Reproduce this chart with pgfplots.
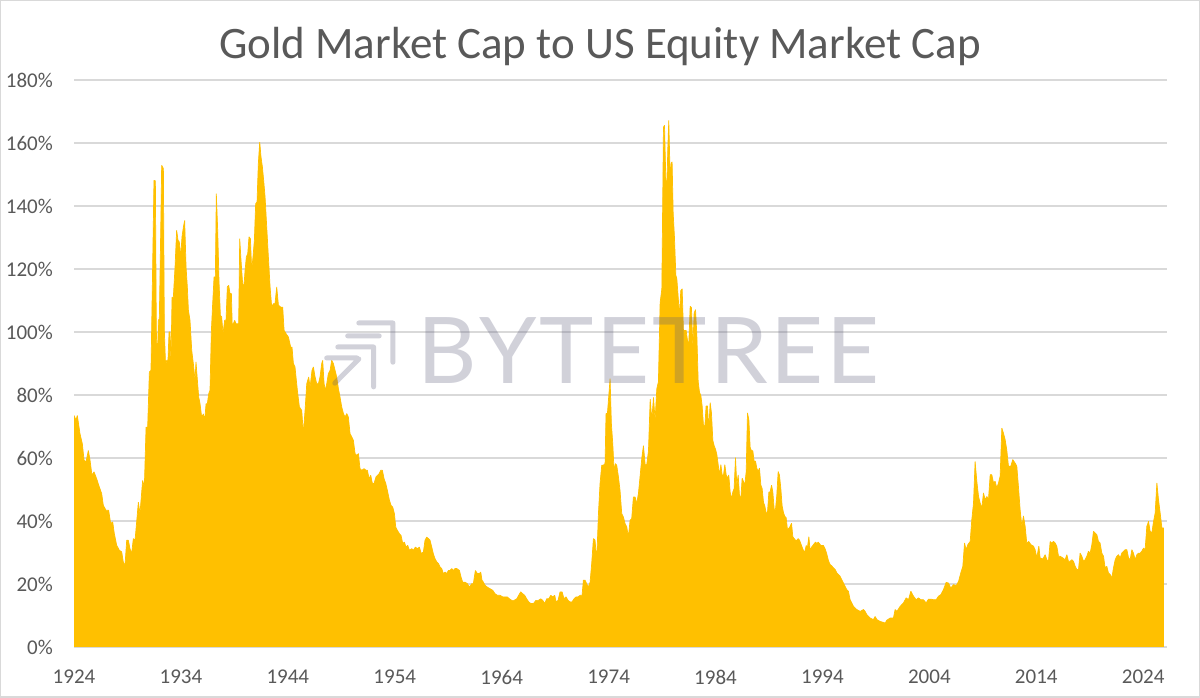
\documentclass[border=0pt]{standalone}
\usepackage{fontspec}
\setmainfont{Carlito}
\newfontfamily\wmfont{Lato}
\usepackage{pgfplots}
\pgfplotsset{compat=1.18}
\definecolor{gold}{HTML}{FFC000}
\definecolor{txt}{HTML}{595959}
\definecolor{grd}{HTML}{D9D9D9}
\definecolor{wm}{HTML}{5A5A7A}
\begin{document}
\begin{tikzpicture}[x=1bp,y=1bp]
\useasboundingbox (0,0) rectangle (1200,698);
\fill[white] (0,0) rectangle (1200,698);
\draw[grd, line width=1.5bp] (0.75,0.75) rectangle (1199.25,697.25);
\node[anchor=base, inner sep=0pt, text=txt, font=\fontsize{45bp}{54bp}\selectfont] at (600,639) {Gold Market Cap to US Equity Market Cap};
\begin{axis}[
  at={(74bp,51bp)}, anchor=south west,
  width=1092.7bp, height=567bp, scale only axis,
  xmin=1924, xmax=2026.2, ymin=0, ymax=180,
  axis line style={draw=none},
  major tick length=0pt,
  ytick={0,20,40,60,80,100,120,140,160,180},
  yticklabels={0\%,20\%,40\%,60\%,80\%,100\%,120\%,140\%,160\%,180\%},
  xtick={1924,1934,1944,1954,1964,1974,1984,1994,2004,2014,2024},
  xticklabels={1924,1934,1944,1954,1964,1974,1984,1994,2004,2014,2024},
  ymajorgrids, grid style={grd, line width=1.3bp},
  tick label style={font=\fontsize{21bp}{24bp}\selectfont, text=txt},
  yticklabel style={anchor=east, inner sep=0pt, xshift=-21bp},
  xticklabel style={anchor=north, inner sep=0pt, yshift=-23bp},
]
\addplot[draw=gold, line width=0.7bp, line join=bevel, fill=gold] coordinates {
(1924.00,73.5)(1924.19,72)(1924.31,73.5)(1924.56,67.7)(1924.78,64.5)(1924.94,59.3)(1925.12,58.7)(1925.34,62.4)(1925.50,59.3)(1925.68,54.5)(1925.87,55.6)(1926.12,53.4)(1926.37,50.8)(1926.59,48.7)(1926.74,45)(1926.99,43.4)(1927.24,43.4)(1927.43,39.2)(1927.62,39.7)(1927.77,36)(1927.99,32.3)(1928.24,30.7)(1928.46,30.2)(1928.61,27)(1928.77,25.9)(1928.93,33.9)(1929.08,33.9)(1929.24,31.2)(1929.39,29.6)(1929.55,34.4)(1929.71,33.9)(1929.86,39.7)(1930.02,46)(1930.17,42.3)(1930.42,52.9)(1930.58,50.8)(1930.74,69.8)(1930.89,69.8)(1931.05,87.3)(1931.20,87.8)(1931.36,121.7)(1931.48,148.1)(1931.61,148)(1931.70,100.5)(1931.80,90)(1931.89,103.7)(1931.98,104.2)(1932.11,132)(1932.20,152.9)(1932.36,151.9)(1932.45,100.5)(1932.57,88.9)(1932.67,91)(1932.79,91)(1932.89,100)(1932.98,100)(1933.07,90)(1933.17,111)(1933.29,111)(1933.45,120.6)(1933.60,132.3)(1933.73,129.1)(1933.85,128.6)(1933.98,123.8)(1934.10,130.2)(1934.23,133.3)(1934.35,135.4)(1934.48,120.6)(1934.60,114.3)(1934.70,106.9)(1934.85,103.7)(1935.01,94.2)(1935.16,90)(1935.32,84.7)(1935.41,90.5)(1935.54,84.7)(1935.66,79.4)(1935.79,77.2)(1935.94,73)(1936.10,74)(1936.23,72)(1936.35,77.2)(1936.47,77.2)(1936.60,80.4)(1936.72,81.5)(1936.85,100.5)(1936.97,109)(1937.10,117.5)(1937.22,117.5)(1937.31,143.9)(1937.44,132.3)(1937.56,116.4)(1937.69,105.3)(1937.81,104.8)(1937.94,99.5)(1938.09,103.7)(1938.22,103.7)(1938.34,114.3)(1938.47,114.8)(1938.59,112.2)(1938.72,112.2)(1938.81,100.5)(1938.90,102.6)(1939.03,103.7)(1939.15,102.6)(1939.28,102.6)(1939.40,102.6)(1939.50,129.6)(1939.62,122.8)(1939.75,116.4)(1939.87,113.2)(1940.00,119.6)(1940.12,123.8)(1940.25,124.9)(1940.37,130.2)(1940.50,129.6)(1940.62,119.6)(1940.74,123.8)(1940.87,129.1)(1940.99,140.7)(1941.12,141.3)(1941.24,153.4)(1941.37,160.3)(1941.49,155.6)(1941.62,152.4)(1941.74,148.1)(1941.87,142.9)(1942.00,134.9)
(1942.18,123.8)(1942.34,114.3)(1942.49,107.9)(1942.65,109)(1942.80,109)(1942.96,114.3)(1943.12,108.5)(1943.33,107.9)(1943.52,107.9)(1943.65,100.5)(1943.83,99.5)(1944.05,98.4)(1944.27,95.2)(1944.39,95.2)(1944.52,90)(1944.67,88.9)(1944.89,81.5)(1945.08,76.2)(1945.30,75.1)(1945.45,67.7)(1945.61,75.1)(1945.77,83.6)(1945.95,85.7)(1946.08,82.5)(1946.26,87.8)(1946.39,88.9)(1946.55,85.7)(1946.70,83.6)(1946.86,83.6)(1947.01,85.7)(1947.17,90)(1947.26,91)(1947.39,83.6)(1947.51,81.5)(1947.64,83.6)(1947.79,86.8)(1947.95,87.8)(1948.10,91)(1948.26,90)(1948.42,87.8)(1948.57,85.7)(1948.73,82)(1948.88,79.4)(1949.04,76.2)(1949.20,74.1)(1949.35,73)(1949.51,74.1)(1949.66,73)(1949.82,67.7)(1949.98,66.7)(1950.13,65.6)(1950.29,61.4)(1950.44,60.8)(1950.60,61.4)(1950.75,56.6)(1950.91,56.1)(1951.13,56.6)(1951.32,56.1)(1951.44,56.1)(1951.60,53.4)(1951.75,54.5)(1951.91,51.9)(1952.06,51.9)(1952.25,54)(1952.38,54.5)(1952.53,55)(1952.69,56.1)(1952.84,56.1)(1953.00,53.4)(1953.16,51.9)(1953.31,49.7)(1953.50,46.6)(1953.65,45)(1953.81,44.4)(1953.97,42.3)(1954.09,38.1)(1954.25,37)(1954.43,36)(1954.59,35.4)(1954.75,32.8)(1954.90,33.3)(1955.06,31.7)(1955.21,32.3)(1955.37,30.7)(1955.59,31.2)(1955.74,30.7)(1955.93,31.7)(1956.12,31.2)(1956.30,31.7)(1956.49,29.6)(1956.68,30.2)(1956.83,33.9)(1956.99,34.9)(1957.15,34.4)(1957.30,33.9)(1957.46,31.7)(1957.61,29.6)(1957.77,28)(1957.93,27)(1958.08,26.5)(1958.24,25.4)(1958.39,24.9)(1958.55,23.3)(1958.71,23.8)(1958.86,23.3)(1959.02,24.3)(1959.17,24.3)(1959.33,24.9)(1959.49,24.3)(1959.64,24.9)(1959.80,24.9)(1960.05,24.3)
(1960.20,22.2)(1960.35,20.6)(1960.57,20.6)(1960.79,20.1)(1960.98,19)(1961.20,20.1)(1961.35,20.1)(1961.54,24.3)(1961.73,23.3)(1961.91,23.3)(1962.04,23.8)(1962.16,21.2)(1962.29,20.6)(1962.44,19.6)(1962.66,19)(1962.91,18.5)(1963.16,18)(1963.38,16.9)(1963.60,16.4)(1963.85,16.4)(1964.10,15.9)(1964.31,15.9)(1964.53,15.9)(1964.72,15.3)(1964.94,14.8)(1965.16,14.8)(1965.41,15.3)(1965.59,16.4)(1965.78,17.5)(1965.97,16.9)(1966.15,16.4)(1966.34,15.3)(1966.53,14.3)(1966.72,13.8)(1966.97,13.8)(1967.21,14.8)(1967.43,14.8)(1967.65,15.3)(1967.84,14.8)(1968.03,13.8)(1968.21,15.3)(1968.40,15.3)(1968.59,16.4)(1968.77,15.9)(1968.96,16.4)(1969.09,14.3)(1969.27,14.8)(1969.46,17.5)(1969.65,17.5)(1969.83,15.3)(1970.02,15.9)(1970.21,14.8)(1970.40,14.3)(1970.58,14.3)(1970.77,15.3)(1970.96,15.9)(1971.14,15.9)(1971.33,16.4)(1971.52,16.4)(1971.64,21.2)(1971.80,21.2)(1971.95,20.1)(1972.11,19)(1972.27,20.6)(1972.42,26.5)(1972.58,34.4)(1972.73,33.9)(1972.89,27.5)(1973.05,42.3)(1973.20,51.9)(1973.36,57.7)(1973.51,57.7)(1973.67,58.2)(1973.76,74.1)(1973.89,74.1)(1974.01,79.4)(1974.14,85.2)(1974.26,70.9)(1974.39,64.6)(1974.51,56.1)(1974.64,58.2)(1974.76,57.7)(1974.92,54)(1975.07,49.7)(1975.23,42.3)(1975.38,41.3)(1975.54,39.2)(1975.70,38.1)(1975.85,34.9)(1976.01,40.2)(1976.16,40.7)(1976.32,47.6)(1976.48,47.6)(1976.63,45.5)(1976.79,48.7)(1976.94,54)
(1977.11,60.1)(1977.26,63.9)(1977.42,57.9)(1977.57,57.9)(1977.73,62.3)(1977.89,78.7)(1978.04,72.1)(1978.20,79.2)(1978.35,72.1)(1978.51,82)(1978.66,84.2)(1978.82,109.3)(1978.98,113.7)(1979.13,165)(1979.23,165.6)(1979.35,148.6)(1979.44,144.3)(1979.54,158.5)(1979.63,167.2)(1979.76,148.6)(1979.85,153.6)(1979.94,154)(1980.04,137.7)(1980.16,130.1)(1980.29,118)(1980.38,117)(1980.50,111.5)(1980.63,104.9)(1980.75,113.1)(1980.88,113.7)(1981.00,100.5)(1981.13,100.5)(1981.25,100.5)(1981.38,97.3)(1981.50,96.2)(1981.63,108.2)(1981.75,107.7)(1981.88,95.1)(1982.00,106)(1982.13,107.1)(1982.25,99.5)(1982.38,84.2)(1982.50,80.9)(1982.63,79.8)(1982.75,76.5)(1982.87,70.5)(1983.00,69.9)(1983.12,76.5)(1983.25,76.5)(1983.37,68.9)(1983.50,77.6)(1983.62,74.3)(1983.75,65.6)(1983.87,63.9)(1984.00,62.8)(1984.12,61.2)(1984.25,57.9)(1984.37,54.6)(1984.50,57.9)(1984.62,54.6)(1984.75,54.6)(1984.87,57.9)(1985.00,54.6)(1985.12,53.6)(1985.24,54.6)(1985.37,49.2)(1985.49,47)(1985.62,49.2)(1985.74,50.3)(1985.87,60.1)(1985.99,51.4)(1986.12,54.6)(1986.24,48.1)(1986.37,47)(1986.49,53.6)(1986.62,52.5)(1986.74,51.4)(1986.87,55.7)(1986.99,74.3)(1987.12,72.1)(1987.24,63.4)(1987.36,62.3)(1987.49,62.3)(1987.61,59)(1987.74,59)(1987.86,56.8)(1987.99,55.7)(1988.11,56.8)(1988.24,51.4)(1988.36,50.3)(1988.49,45.9)(1988.61,44.8)(1988.74,42.6)(1988.86,42.6)(1988.99,49.2)(1989.11,49.2)(1989.24,51.4)(1989.36,49.2)(1989.49,43.7)(1989.61,43.7)(1989.73,48.1)(1989.86,55.7)(1989.98,54.6)(1990.11,50.3)(1990.23,44.8)(1990.36,42.6)(1990.48,41.5)(1990.61,41)(1990.73,37.2)(1990.86,37.7)(1990.98,38.3)(1991.11,39.3)(1991.23,35)(1991.36,34.4)(1991.48,33.9)(1991.61,33.9)(1991.73,34.4)(1991.86,33.9)(1991.98,32.8)(1992.10,31.7)(1992.23,30.6)(1992.35,30.1)(1992.48,32.2)(1992.60,31.7)(1992.73,35)(1992.85,30.6)(1992.98,31.7)(1993.10,32.2)(1993.23,32.8)(1993.35,33.3)(1993.48,32.8)(1993.60,33.3)(1993.73,32.8)(1993.85,32.2)(1993.98,32.2)(1994.10,32.2)(1994.26,31.1)(1994.41,29.5)(1994.57,27.3)(1994.72,26.2)(1994.88,25.7)(1995.04,25.1)(1995.19,24.6)(1995.35,23.5)(1995.50,23)
(1995.66,22.4)(1995.97,20.3)(1996.28,18.2)(1996.43,17.7)(1996.59,15)(1996.90,12.9)(1997.21,11.9)(1997.53,11.3)(1997.84,11.9)(1997.99,11.3)(1998.15,10.3)(1998.46,9.2)(1998.77,8.7)(1998.93,9.7)(1999.09,8.7)(1999.40,8.1)(1999.71,7.8)(1999.87,7.6)(2000.02,8.5)(2000.33,9.2)(2000.64,9.2)(2000.80,11.9)(2000.96,11.3)(2001.27,12.9)(2001.58,14)(2001.83,15.6)(2002.05,15)(2002.27,17.7)(2002.52,16.1)(2002.77,15)(2002.98,15.6)(2003.20,15)(2003.45,15)(2003.70,14)(2003.92,15.2)(2004.14,15.2)(2004.39,15)(2004.64,15)(2004.85,16.1)(2005.07,16.6)(2005.32,18.2)(2005.57,20.5)(2005.79,20.3)(2006.01,18.7)(2006.26,19.8)(2006.51,19.5)(2006.73,20.8)(2006.94,23.5)(2007.13,25.6)(2007.29,33)(2007.44,30.9)(2007.60,32.5)(2007.82,33.5)(2007.97,40.4)(2008.13,45.7)(2008.28,58.9)(2008.44,52.6)(2008.60,47.8)(2008.75,45.7)(2008.91,44.1)(2009.06,48.9)(2009.22,46.8)(2009.38,47.8)(2009.53,46.8)(2009.69,54.7)(2009.84,54.7)(2010.00,52.1)(2010.15,52.6)(2010.31,50.5)(2010.47,52.1)(2010.62,54.2)(2010.78,69.5)
(2010.93,67.9)(2011.09,65.8)(2011.24,62.6)(2011.40,57.4)(2011.62,57.4)(2011.80,59.5)(2012.02,58.4)(2012.18,57.4)(2012.33,51)(2012.49,43.6)(2012.65,38.3)(2012.80,41.6)(2012.96,38.3)(2013.11,33)(2013.30,33.5)(2013.49,32.5)(2013.74,32)(2013.89,30.9)(2014.05,28.3)(2014.24,32)(2014.36,28.3)(2014.61,27.9)(2014.83,29.3)(2014.99,27.7)(2015.14,27.2)(2015.30,33.5)(2015.45,33)(2015.61,33.5)(2015.77,33)(2015.92,32)(2016.08,28.8)(2016.23,28.8)(2016.48,28.3)(2016.70,27.7)(2016.86,29.3)(2017.01,27.2)(2017.17,27.2)(2017.32,27.7)(2017.48,27.2)(2017.64,25.6)(2017.79,24.6)(2017.95,24.6)(2018.10,29.8)(2018.26,28.8)(2018.42,27.2)(2018.57,27.7)(2018.73,28.8)(2018.88,30.4)(2019.04,29.8)(2019.20,32.5)(2019.35,36.7)(2019.51,36.2)(2019.66,35.7)(2019.82,33.5)(2019.97,33)(2020.13,29.8)(2020.29,28.8)(2020.44,25.1)(2020.60,25.6)(2020.75,23.5)(2020.91,23)(2021.07,21.9)(2021.22,25.1)(2021.38,27.7)(2021.53,28.8)(2021.69,29.3)(2021.85,28.3)(2022.00,29.8)(2022.16,30.4)(2022.31,30.9)(2022.47,30.9)(2022.63,28.3)(2022.78,27.7)(2022.94,30.9)(2023.09,29.8)(2023.25,27.7)(2023.41,29.3)(2023.56,29.8)(2023.72,29.8)(2023.87,30.4)(2024.03,31.4)(2024.18,30.9)(2024.34,38.3)(2024.50,39.9)(2024.65,36.7)(2024.81,36.2)(2024.97,39.9)(2025.12,42.5)(2025.28,52.1)(2025.43,46.8)(2025.59,42.5)(2025.75,37.8)(2025.90,37.8)
} \closedcycle;
\end{axis}
% watermark
\draw[wm, opacity=0.28, line width=5bp, line cap=round, line join=round]
  (358.8,375) -- (392.9,375) -- (392.9,335.8)
  (347.7,362.1) -- (379.2,362.1)
  (337.8,351) -- (373.6,351) -- (373.6,311.1)
  (326.7,340) -- (357,340)
  (358.8,339) -- (334.8,314.8);
\node[anchor=base west, inner sep=0pt, text=wm, text opacity=0.28, font=\wmfont\fontsize{92bp}{100bp}\selectfont] at (417,314) {B\kern2.8bp Y\kern2.8bp T\kern2.8bp E\kern2.8bp T\kern2.8bp R\kern2.8bp E\kern2.8bp E};
\end{tikzpicture}
\end{document}
